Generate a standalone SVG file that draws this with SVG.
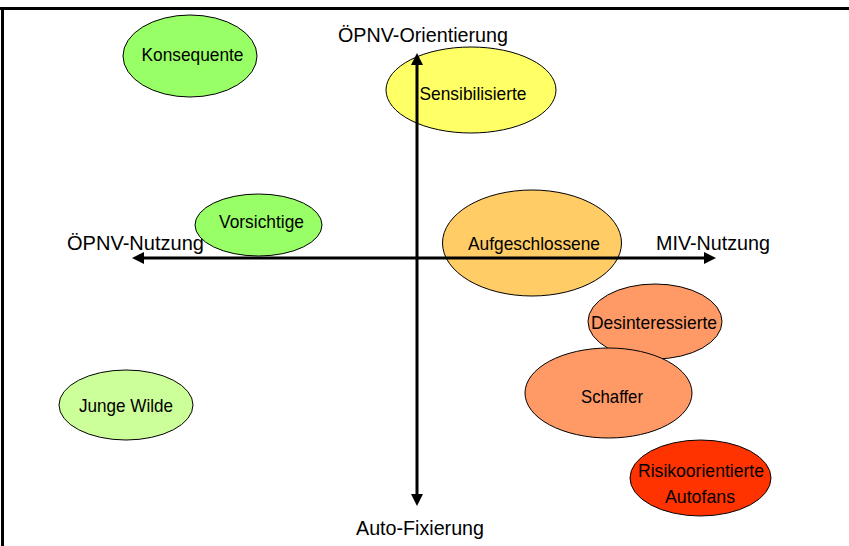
<svg xmlns="http://www.w3.org/2000/svg" width="849" height="546" viewBox="0 0 849 546">
<style>
.node ellipse{stroke:#000;stroke-width:1}
.node text,.axis-label{font-family:"Liberation Sans",Arial,sans-serif;fill:#000;text-anchor:middle}
.node text{font-size:19px}
.axis-label{font-size:21px}
.axis{stroke:#000;stroke-width:3;fill:none}
.frame{stroke:#000;stroke-width:3}
</style>
<defs>
<marker id="arr" viewBox="0 0 12 12" refX="2" refY="6" markerWidth="12" markerHeight="12" markerUnits="userSpaceOnUse" orient="auto-start-reverse">
<path d="M0,0 L12,6 L0,12 Z" fill="#000"/>
</marker>
</defs>
<rect width="849" height="546" fill="#fff"/>
<line class="frame" x1="0" y1="8.5" x2="849" y2="8.5"/>
<line class="frame" x1="2.5" y1="7" x2="2.5" y2="546"/>

<g id="konsequente" class="node">
<ellipse cx="190" cy="56" rx="67" ry="41" fill="#99FF66"/>
<text x="192.5" y="61" textLength="102" lengthAdjust="spacingAndGlyphs">Konsequente</text>
</g>
<g id="sensibilisierte" class="node">
<ellipse cx="471" cy="90" rx="85" ry="43" fill="#FFFF66"/>
<text x="473" y="100" textLength="107" lengthAdjust="spacingAndGlyphs">Sensibilisierte</text>
</g>
<g id="vorsichtige" class="node">
<ellipse cx="258.5" cy="225" rx="63.5" ry="31" fill="#99FF66"/>
<text x="261.5" y="228" textLength="85" lengthAdjust="spacingAndGlyphs">Vorsichtige</text>
</g>
<g id="aufgeschlossene" class="node">
<ellipse cx="532" cy="243" rx="89.5" ry="53" fill="#FFCC66"/>
<text x="534" y="250" textLength="132" lengthAdjust="spacingAndGlyphs">Aufgeschlossene</text>
</g>
<g id="desinteressierte" class="node">
<ellipse cx="655" cy="321.5" rx="67" ry="37.5" fill="#FF9966"/>
<text x="654" y="329" textLength="126" lengthAdjust="spacingAndGlyphs">Desinteressierte</text>
</g>
<g id="schaffer" class="node">
<ellipse cx="608.5" cy="393" rx="83.5" ry="45" fill="#FF9966"/>
<text x="612" y="403" textLength="62" lengthAdjust="spacingAndGlyphs">Schaffer</text>
</g>
<g id="risikoorientierte" class="node">
<ellipse cx="700.5" cy="478" rx="70.5" ry="38" fill="#FF3300"/>
<text x="701" y="477" textLength="126" lengthAdjust="spacingAndGlyphs">Risikoorientierte</text>
<text x="700" y="503" textLength="70" lengthAdjust="spacingAndGlyphs">Autofans</text>
</g>
<g id="junge-wilde" class="node">
<ellipse cx="126" cy="405" rx="67" ry="35" fill="#CCFF99"/>
<text x="126" y="412" textLength="94" lengthAdjust="spacingAndGlyphs">Junge Wilde</text>
</g>

<g id="connectors">
<line class="axis" x1="142" y1="258" x2="706" y2="258" marker-start="url(#arr)" marker-end="url(#arr)"/>
<line class="axis" x1="417" y1="63" x2="417" y2="496" marker-start="url(#arr)" marker-end="url(#arr)"/>
</g>

<g id="axis-labels">
<text class="axis-label" x="423" y="42" textLength="170" lengthAdjust="spacingAndGlyphs">ÖPNV-Orientierung</text>
<text class="axis-label" x="135.5" y="250" textLength="137" lengthAdjust="spacingAndGlyphs">ÖPNV-Nutzung</text>
<text class="axis-label" x="713" y="250" textLength="114" lengthAdjust="spacingAndGlyphs">MIV-Nutzung</text>
<text class="axis-label" x="420" y="535" textLength="128" lengthAdjust="spacingAndGlyphs">Auto-Fixierung</text>
</g>
</svg>
